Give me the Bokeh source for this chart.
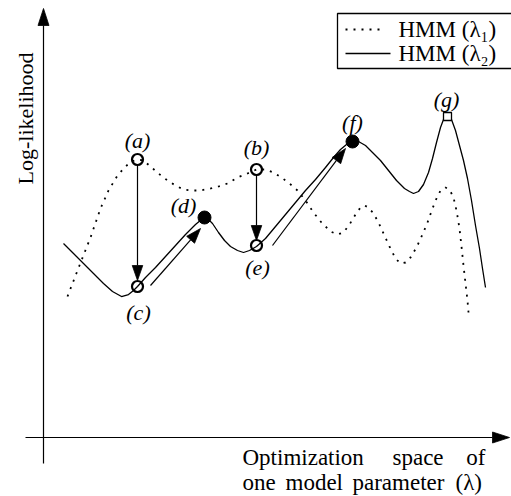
import numpy as np
from bokeh.plotting import figure
from bokeh.models import Range1d, ColumnDataSource
from bokeh.embed import file_html
from bokeh.resources import INLINE
from bokeh.core.properties import value

# ---- data (x: parameter position, y_top: distance from top, converted below) ----
solid_x = [63, 73, 83, 93, 103, 112, 121, 128, 133, 137, 145, 155, 165, 175, 185, 195, 201, 204,
           207, 212, 218, 224, 230, 237, 243, 249, 256, 265, 275, 285, 295, 305, 315, 325, 333,
           340, 346, 352, 358, 365, 372, 380, 388, 396, 404, 409, 413, 418, 423, 428, 432, 436,
           440, 443, 447, 451, 455, 459, 463, 467, 471, 475, 479, 482, 485]
solid_top = [243, 253, 263, 273, 283, 291, 296, 294, 290, 286, 277, 267, 256, 245, 234, 224, 219, 217,
             218, 223, 232, 240, 246, 250, 252, 250, 246, 238, 226, 214, 202, 190, 179, 167, 157,
             149, 144, 141, 141, 145, 152, 160, 170, 180, 188, 191, 193, 191, 184, 172, 158, 142,
             127, 119, 116, 119, 130, 145, 160, 178, 200, 225, 248, 268, 287]

dotted_x = [67, 77, 90, 100, 108, 117, 125, 131, 137, 143, 150, 158, 167, 175, 183, 192, 200, 210,
            218, 227, 237, 247, 256, 265, 273, 281, 289, 297, 305, 313, 321, 330, 337, 343, 349,
            355, 360, 364, 368, 373, 378, 383, 389, 395, 400, 405, 410, 416, 422, 427, 432, 436,
            440, 445, 449, 453, 456, 459, 461, 463, 465, 467, 468]
dotted_top = [296, 270, 237, 208, 190, 175, 166, 161, 159, 160, 166, 173, 180, 185, 189, 190, 190, 188,
              186, 183, 177, 173, 169, 169, 172, 177, 183, 190, 200, 212, 222, 231, 234, 232, 224,
              214, 207, 205, 207, 213, 222, 233, 246, 258, 263, 262, 257, 247, 234, 222, 208, 198,
              190, 187, 189, 197, 210, 228, 246, 265, 283, 300, 312]

point_names = ["(a)", "(b)", "(c)", "(d)", "(e)", "(f)", "(g)"]
point_x = [137, 256, 137, 204, 256, 352, 447]
point_top = [159, 169, 286, 217, 245, 141, 116]
label_x = [137, 256, 138, 183, 257, 352, 446]
label_top = [140, 147, 312, 205, 267, 122, 99]

open_pts = [0, 1, 2, 4]
filled_pts = [3, 5]
square_pts = [6]

# moves: a->c, b->e, c->d, e->f
move_x0 = [137, 256, 150, 272]
move_top0 = [165, 175, 285, 245]
move_x1 = [137, 256, 200, 345]
move_top1 = [280, 240, 228, 148]

legend_labels = ["HMM (λ₁)", "HMM (λ₂)"]
legend_top = [29, 53]

y_label = "Log-likelihood"
x_label_line1 = ["Optimization", "space", "of"]
x_label_line1_x = [242, 392, 485]
x_label_line2 = ["one", "model", "parameter", "(λ)"]
x_label_line2_x = [242, 285, 352, 455]

W, H = 511, 496


def Y(t):
    return H - np.asarray(t, dtype=float)


p = figure(width=W, height=H, output_backend="svg", toolbar_location=None,
           x_range=Range1d(0, W), y_range=Range1d(0, H),
           x_axis_type=None, y_axis_type=None, min_border=0)
p.grid.visible = False
p.outline_line_color = None
p.background_fill_color = "white"
p.border_fill_color = "white"

FONT = value("Liberation Serif")


def arrow(x0, t0, x1, t1, head_len=14.0, head_w=10.0, lw=1.2):
    dx, dy = x1 - x0, t1 - t0
    L = np.hypot(dx, dy)
    ux, uy = dx / L, dy / L
    bx, by = x1 - ux * head_len, t1 - uy * head_len
    p.line([x0, bx], Y([t0, by]), line_color="black", line_width=lw)
    nx, ny = -uy, ux
    tx = [x1, bx + nx * head_w / 2, bx - nx * head_w / 2]
    ty = [t1, by + ny * head_w / 2, by - ny * head_w / 2]
    p.patch(tx, Y(ty), fill_color="black", line_color="black", line_width=0.8)


# axes
arrow(43, 463, 43, 8, head_len=17, head_w=11)
arrow(25, 437, 509, 437, head_len=17, head_w=11)

# curves
p.line(dotted_x, Y(dotted_top), line_color="black", line_width=1.8, line_dash="2 6", line_cap="butt")
p.line(solid_x, Y(solid_top), line_color="black", line_width=1.3)

# moves
for i in range(len(move_x0)):
    arrow(move_x0[i], move_top0[i], move_x1[i], move_top1[i], head_len=15, head_w=10.5)

# markers
p.scatter([point_x[i] for i in open_pts], Y([point_top[i] for i in open_pts]), marker="circle",
          size=11, fill_color=None, line_color="black", line_width=2.2)
p.scatter([point_x[i] for i in filled_pts], Y([point_top[i] for i in filled_pts]), marker="circle",
          size=13, fill_color="black", line_color="black", line_width=1)
p.scatter([point_x[i] for i in square_pts], Y([point_top[i] for i in square_pts]), marker="square",
          size=8, fill_color="white", line_color="black", line_width=1.3)

# point labels
src = ColumnDataSource(dict(x=label_x, y=Y(label_top), t=point_names))
p.text("x", "y", text="t", source=src, text_font=FONT, text_font_style="italic",
       text_font_size="22px", text_align="center", text_baseline="middle", text_color="black")

# legend
p.quad(left=[337], right=[540], top=Y([13]), bottom=Y([68]), fill_color="white",
       line_color="black", line_width=1.3)
p.line([345, 383], Y([legend_top[0], legend_top[0]]), line_color="black", line_width=1.8,
       line_dash="2 6", line_cap="butt")
p.line([345, 390], Y([legend_top[1], legend_top[1]]), line_color="black", line_width=1.3)
p.text([398, 398], Y(legend_top), text=legend_labels, text_font=FONT, text_font_size="23px",
       text_align="left", text_baseline="middle", text_color="black")

# axis labels
p.text([25], Y([118]), text=[y_label], angle=np.pi / 2, text_font=FONT, text_font_size="22px",
       text_align="center", text_baseline="middle", text_color="black")
p.text(x_label_line1_x, Y([457] * len(x_label_line1)), text=x_label_line1, text_font=FONT,
       text_font_size="23px", text_align=["left", "left", "right"], text_baseline="middle",
       text_color="black")
p.text(x_label_line2_x, Y([482] * len(x_label_line2)), text=x_label_line2, text_font=FONT,
       text_font_size="23px", text_align="left", text_baseline="middle", text_color="black")

open("out.html", "w").write(file_html(p, INLINE))
